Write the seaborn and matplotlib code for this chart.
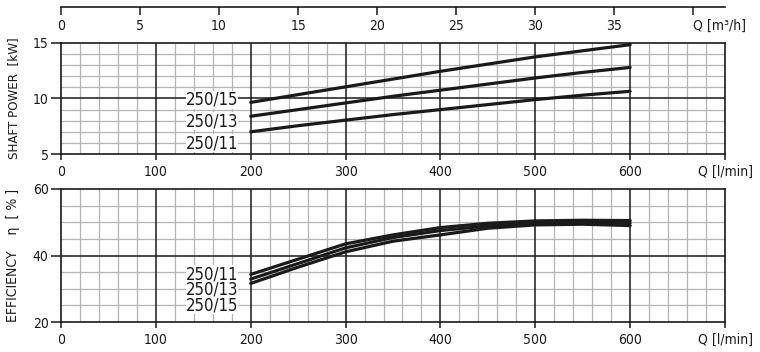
import pandas as pd
import matplotlib.pyplot as plt
import seaborn as sns
from matplotlib.ticker import MultipleLocator

sns.set_style("white")
plt.rcParams["font.family"] = ["DejaVu Sans"]
plt.rcParams["font.stretch"] = "condensed"

# flow points [l/min]
flow = [200, 250, 300, 350, 400, 450, 500, 550, 600]
models = ["250/15", "250/13", "250/11"]

# shaft power [kW]
power_15 = [9.65, 10.35, 11.05, 11.75, 12.45, 13.1, 13.75, 14.3, 14.85]
power_13 = [8.4, 9.0, 9.6, 10.2, 10.75, 11.3, 11.85, 12.35, 12.8]
power_11 = [7.0, 7.55, 8.05, 8.55, 9.0, 9.45, 9.9, 10.3, 10.65]

# efficiency [%]
eff_11 = [34.3, 38.9, 43.5, 46.2, 48.4, 49.7, 50.4, 50.6, 50.5]
eff_13 = [32.9, 37.6, 42.3, 45.4, 47.5, 48.9, 49.8, 50.0, 49.8]
eff_15 = [31.6, 36.5, 41.1, 44.3, 46.2, 48.2, 49.2, 49.4, 49.0]

# curve label positions (y values)
power_label_y = [9.9, 7.95, 5.95]
eff_label_mid = 29.7
eff_label_names = ["250/11", "250/13", "250/15"]

q_ticks = [0, 100, 200, 300, 400, 500, 600, 700]
q_labels = ["0", "100", "200", "300", "400", "500", "600", "Q [l/min]"]
m3h_ticks = [0, 5, 10, 15, 20, 25, 30, 35, 40]
m3h_labels = ["0", "5", "10", "15", "20", "25", "30", "35", "Q [m³/h]"]

power_df = pd.DataFrame({
    "Q": flow * 3,
    "P": power_15 + power_13 + power_11,
    "model": sum([[m] * len(flow) for m in models], []),
})
eff_df = pd.DataFrame({
    "Q": flow * 3,
    "E": eff_11 + eff_13 + eff_15,
    "model": sum([[m] * len(flow) for m in eff_label_names], []),
})

dark = "#1a1a1a"
minor_col = "#b4b4b4"

fig = plt.figure(figsize=(7.6, 3.52), dpi=100)
L, W = 61 / 760, 664 / 760
ax_p = fig.add_axes([L, 198 / 352, W, 111 / 352])
ax_e = fig.add_axes([L, 30 / 352, W, 133 / 352])
ax_t = fig.add_axes([L, 345 / 352, W, 0.0005])


def style_panel(ax, ymin, ymax, ymajor, yminor):
    ax.set_xlim(0, 700)
    ax.set_ylim(ymin, ymax)
    ax.xaxis.set_major_locator(plt.FixedLocator(q_ticks))
    ax.set_xticklabels(q_labels)
    ax.xaxis.set_minor_locator(MultipleLocator(20))
    ax.yaxis.set_major_locator(MultipleLocator(ymajor))
    ax.yaxis.set_minor_locator(MultipleLocator(yminor))
    ax.grid(which="minor", color=minor_col, lw=0.9, zorder=0)
    ax.grid(which="major", visible=False)
    # dark major grid drawn above the light minor one
    for x in q_ticks[1:-1]:
        ax.axvline(x, color=dark, lw=1.1, zorder=1.5)
    for y in ax.get_yticks():
        if ymin < y < ymax:
            ax.axhline(y, color=dark, lw=1.1, zorder=1.5)
    ax.set_axisbelow(True)
    ax.tick_params(which="major", direction="out", length=4, width=1.1,
                   color=dark, labelsize=10, labelcolor=dark, pad=4,
                   bottom=True, left=True)
    ax.tick_params(axis="y", which="major", length=7, pad=2)
    ax.tick_params(which="minor", length=0)
    for s in ax.spines.values():
        s.set_color(dark)
        s.set_linewidth(1.2)
        s.set_zorder(2)
    ax.set_xlabel("")
    legend = ax.get_legend()
    if legend is not None:
        legend.remove()


sns.lineplot(data=power_df, x="Q", y="P", hue="model",
             palette=[dark] * 3, linewidth=2.3, ax=ax_p, zorder=3)
style_panel(ax_p, 5, 15, 5, 1)
ax_p.set_ylabel("SHAFT POWER  [kW]", fontsize=9.5, color=dark)
ax_p.yaxis.set_label_coords(-0.062, 0.5)
for name, y in zip(models, power_label_y):
    ax_p.text(187, y, name, ha="right", va="center", fontsize=12, color=dark,
              bbox=dict(facecolor="white", edgecolor="none", pad=0.0), zorder=4)

sns.lineplot(data=eff_df, x="Q", y="E", hue="model",
             palette=[dark] * 3, linewidth=2.3, ax=ax_e, zorder=3)
style_panel(ax_e, 20, 60, 20, 5)
ax_e.set_ylabel("EFFICIENCY    η  [ % ]", fontsize=10, color=dark)
ax_e.yaxis.set_label_coords(-0.062, 0.5)
ax_e.text(187, eff_label_mid, "\n".join(eff_label_names), ha="right",
          va="center", multialignment="right", linespacing=0.82,
          fontsize=12, color=dark,
          bbox=dict(facecolor="white", edgecolor="none", pad=0.0), zorder=4)

# top flow axis in m3/h
ax_t.set_xlim(0, 42)
ax_t.set_yticks([])
ax_t.set_xticks(m3h_ticks)
ax_t.set_xticklabels(m3h_labels)
ax_t.patch.set_alpha(0)
for side in ["top", "left", "right"]:
    ax_t.spines[side].set_visible(False)
ax_t.spines["bottom"].set_color(dark)
ax_t.spines["bottom"].set_linewidth(1.2)
ax_t.tick_params(axis="x", direction="out", length=5.5, width=1.1,
                 color=dark, labelsize=10, labelcolor=dark, pad=3, bottom=True)
ax_t.get_xticklabels()[-1].set_horizontalalignment("left")

fig.savefig("out.png", dpi=100, facecolor="white")
